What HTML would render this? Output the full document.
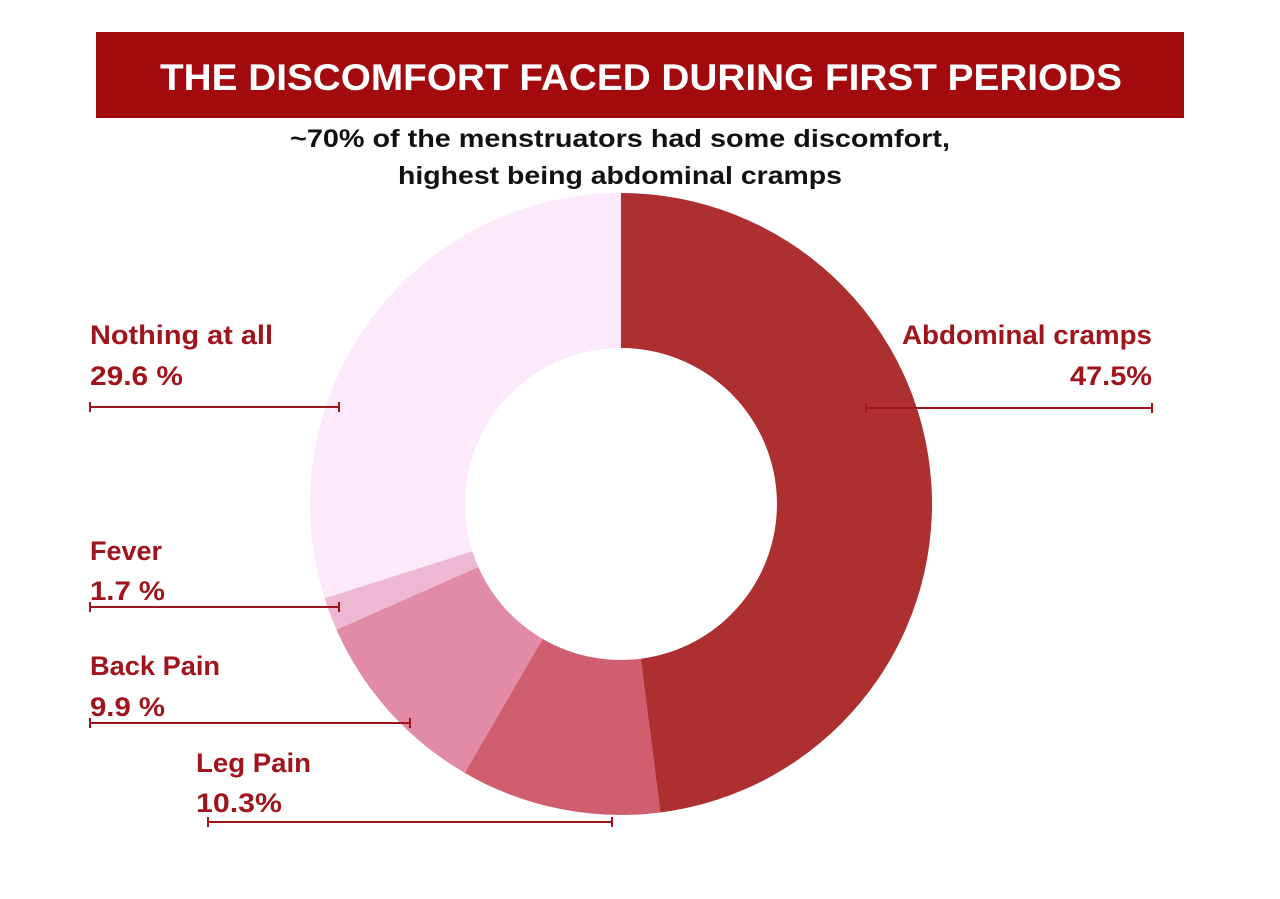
<!DOCTYPE html>
<html><head><meta charset="utf-8"><style>
body{margin:0;width:1280px;height:894px;background:#fff;overflow:hidden;font-family:"Liberation Sans",sans-serif}
</style></head><body>
<svg width="1280" height="894" xmlns="http://www.w3.org/2000/svg">
<rect x="96" y="32" width="1088" height="86" fill="#A30A0E"/>
<text x="160" y="90" textLength="962" lengthAdjust="spacingAndGlyphs" fill="#fff" font-size="37" font-weight="bold" font-family="Liberation Sans, sans-serif">THE DISCOMFORT FACED DURING FIRST PERIODS</text>
<text x="290" y="147" textLength="660" lengthAdjust="spacingAndGlyphs" fill="#111" font-size="25" font-weight="bold" font-family="Liberation Sans, sans-serif">~70% of the menstruators had some discomfort,</text>
<text x="398" y="184" textLength="444" lengthAdjust="spacingAndGlyphs" fill="#111" font-size="25" font-weight="bold" font-family="Liberation Sans, sans-serif">highest being abdominal cramps</text>
<g id="pie"></g>
<g fill="#A0141B" font-size="27" font-weight="bold" font-family="Liberation Sans, sans-serif" lengthAdjust="spacingAndGlyphs">
<text x="90" y="344" textLength="183" lengthAdjust="spacingAndGlyphs">Nothing at all</text><text x="90" y="385" textLength="93" lengthAdjust="spacingAndGlyphs">29.6 %</text>
<text x="902" y="344" textLength="250" lengthAdjust="spacingAndGlyphs">Abdominal cramps</text><text x="1070" y="385" textLength="82" lengthAdjust="spacingAndGlyphs">47.5%</text>
<text x="90" y="560" textLength="72" lengthAdjust="spacingAndGlyphs">Fever</text><text x="90" y="600" textLength="75" lengthAdjust="spacingAndGlyphs">1.7 %</text>
<text x="90" y="675" textLength="130" lengthAdjust="spacingAndGlyphs">Back Pain</text><text x="90" y="716" textLength="75" lengthAdjust="spacingAndGlyphs">9.9 %</text>
<text x="196" y="772" textLength="115" lengthAdjust="spacingAndGlyphs">Leg Pain</text><text x="196" y="812" textLength="86" lengthAdjust="spacingAndGlyphs">10.3%</text>
</g>
<g stroke="#A0141B" stroke-width="2">
<line x1="90" y1="407" x2="339" y2="407"/><line x1="90" y1="402" x2="90" y2="412"/><line x1="339" y1="402" x2="339" y2="412"/>
<line x1="866" y1="408" x2="1152" y2="408"/><line x1="866" y1="403" x2="866" y2="413"/><line x1="1152" y1="403" x2="1152" y2="413"/>
<line x1="90" y1="607" x2="339" y2="607"/><line x1="90" y1="602" x2="90" y2="612"/><line x1="339" y1="602" x2="339" y2="612"/>
<line x1="90" y1="723" x2="410" y2="723"/><line x1="90" y1="718" x2="90" y2="728"/><line x1="410" y1="718" x2="410" y2="728"/>
<line x1="208" y1="822" x2="612" y2="822"/><line x1="208" y1="817" x2="208" y2="827"/><line x1="612" y1="817" x2="612" y2="827"/>
</g>
</svg>
<script>
var d=[[47.5,"#AD2F30"],[10.3,"#D05E6E"],[9.9,"#E28BA6"],[1.7,"#EEB8D2"],[29.6,"#FCE9FB"]];
var cx=621,cy=504,R=311,r=156,a=0,s="";
function p(rad,t){return (cx+rad*Math.sin(t)).toFixed(2)+" "+(cy-rad*Math.cos(t)).toFixed(2);}
d.forEach(function(e){var b=a+e[0]/99*2*Math.PI,l=(b-a)>Math.PI?1:0;
s+='<path fill="'+e[1]+'" d="M'+p(R,a)+' A'+R+' '+R+' 0 '+l+' 1 '+p(R,b)+' L'+p(r,b)+' A'+r+' '+r+' 0 '+l+' 0 '+p(r,a)+'Z"/>';a=b;});
document.getElementById("pie").innerHTML=s;
</script>
</body></html>
